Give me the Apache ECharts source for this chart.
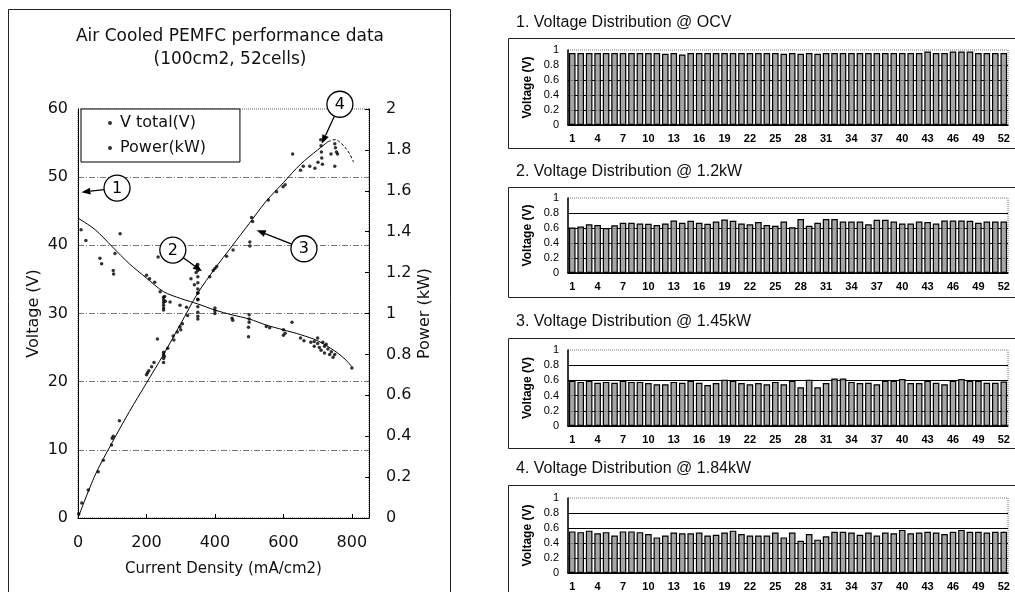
<!DOCTYPE html>
<html><head><meta charset="utf-8">
<script src="https://cdn.jsdelivr.net/npm/echarts@6/dist/echarts.min.js"></script>
<style>html,body{margin:0;padding:0;background:#fff}#c{width:1015px;height:592px}</style>
</head><body><div id="c"></div>
<script>
// ---------- Left chart data ----------
const fitCurrent = [0,50,100,150,200,250,300,350,400,450,500,550,600,650,700,750,780,800];
const fitVoltage = [44,42.3,39.8,37.3,35.2,33.2,32.2,31.4,30.5,29.8,29.2,28.3,27.6,26.9,26.0,24.5,23.3,22.2];
const fitPowerCurrent = [0,50,100,150,200,250,300,350,400,450,500,550,600,650,700,730];
const fitPower = [0,0.21,0.37,0.52,0.66,0.80,0.95,1.10,1.22,1.33,1.44,1.55,1.64,1.73,1.80,1.84];
const tailCurrent = [730,750,770,790,805];
const tailPower = [1.84,1.85,1.83,1.79,1.74];

const vPointCurrent = [9,23,64,69,103,104,108,123,200,209,224,234,240,253,250,250,250,250,250,250,255,269,298,317,350,350,350,350,350,350,400,400,400,450,452,500,500,500,498,498,550,560,600,600,605,625,650,660,680,690,700,700,705,710,720,720,730,740,745,750,800,715,725,735,690];
const vPointVoltage = [42.3,40.7,38.1,37.3,36.3,35.8,38.8,41.7,35.6,35.1,34.6,38.3,33.2,32.5,32.4,32.0,31.6,31.2,30.8,30.5,31.8,31.7,31.2,30.9,33.0,32.0,31.0,30.2,29.6,29.2,30.8,30.4,30.0,29.3,29.0,29.8,29.2,28.7,28.0,26.6,28.1,27.9,27.6,26.8,27.1,28.7,26.4,26.0,25.8,25.2,26.4,25.6,25.0,24.6,25.2,24.2,24.8,24.4,23.6,24.0,22.0,25.8,25.5,24.0,25.9];

const pPointCurrent = [2,11,30,59,74,98,100,103,121,200,203,207,215,222,232,250,250,250,250,252,262,278,280,290,298,300,305,320,330,340,345,350,350,350,350,350,350,350,385,395,400,405,434,453,502,502,507,510,556,580,599,605,627,650,658,677,692,701,709,710,711,712,714,739,750,752,755,758,750];
const pPointPower = [0.02,0.073,0.137,0.226,0.283,0.357,0.39,0.40,0.476,0.70,0.71,0.72,0.74,0.76,0.875,0.76,0.78,0.80,0.81,0.79,0.83,0.89,0.87,0.91,0.935,0.92,0.95,0.99,1.17,1.14,1.20,1.07,1.10,1.12,1.15,1.18,1.21,1.24,1.18,1.21,1.22,1.23,1.28,1.31,1.33,1.35,1.47,1.45,1.555,1.595,1.62,1.63,1.78,1.70,1.72,1.72,1.71,1.74,1.85,1.82,1.79,1.76,1.73,1.78,1.83,1.81,1.79,1.78,1.72];

// annotation circles (data coords: current, voltage) and arrow tips
const annLabels = ['1','2','3','4'];
const annCenters = [[114,48.4],[277,39.3],[660,39.5],[765,60.7]];
const annTips = [[10,47.8],[362,36.2],[522,42.2],[712,54.9]];

// ---------- Right panels data ----------
const cellLabels = ['1','2','3','4','5','6','7','8','9','10','11','12','13','14','15','16','17','18','19','20','21','22','23','24','25','26','27','28','29','30','31','32','33','34','35','36','37','38','39','40','41','42','43','44','45','46','47','48','49','50','51','52'];
const vOCV = [0.96,0.96,0.96,0.96,0.96,0.96,0.96,0.96,0.96,0.96,
              0.96,0.95,0.96,0.94,0.96,0.96,0.96,0.96,0.96,0.96,
              0.96,0.96,0.96,0.96,0.96,0.95,0.96,0.95,0.96,0.95,
              0.96,0.96,0.96,0.96,0.96,0.96,0.96,0.96,0.96,0.96,
              0.96,0.96,0.98,0.96,0.96,0.98,0.98,0.98,0.96,0.96,
              0.96,0.96];
const v12kW = [0.605,0.62,0.65,0.64,0.60,0.635,0.67,0.67,0.66,0.655,
               0.64,0.66,0.70,0.67,0.695,0.67,0.655,0.686,0.713,0.695,
               0.66,0.65,0.68,0.64,0.63,0.686,0.61,0.72,0.63,0.67,
               0.72,0.72,0.686,0.686,0.686,0.65,0.71,0.71,0.686,0.66,
               0.66,0.686,0.68,0.66,0.70,0.70,0.70,0.695,0.67,0.686,
               0.686,0.686];
const v145kW = [0.595,0.58,0.595,0.57,0.58,0.57,0.595,0.58,0.58,0.565,
                0.55,0.55,0.58,0.57,0.595,0.57,0.54,0.565,0.61,0.595,
                0.565,0.55,0.565,0.55,0.58,0.55,0.595,0.51,0.61,0.51,
                0.565,0.625,0.625,0.58,0.565,0.57,0.55,0.595,0.595,0.62,
                0.565,0.565,0.595,0.57,0.55,0.595,0.62,0.595,0.595,0.57,
                0.57,0.585];
const v184kW = [0.555,0.545,0.565,0.53,0.545,0.50,0.555,0.555,0.545,0.52,
                0.475,0.50,0.54,0.53,0.53,0.54,0.50,0.51,0.54,0.565,
                0.52,0.50,0.50,0.50,0.54,0.475,0.54,0.43,0.52,0.445,
                0.49,0.55,0.55,0.54,0.51,0.54,0.50,0.54,0.53,0.575,
                0.53,0.54,0.55,0.54,0.52,0.55,0.575,0.55,0.55,0.54,
                0.55,0.55];
const panelValues = [vOCV, v12kW, v145kW, v184kW];
const panelTitles = ['1. Voltage Distribution @ OCV','2. Voltage Distribution @ 1.2kW','3. Voltage Distribution @ 1.45kW','4. Voltage Distribution @ 1.84kW'];

// ---------- layout ----------
const LF = 'DejaVu Sans';
const RF = 'Liberation Sans';
const panelTop = [50,198,350,498];
const panelH = [75,75,76,77];
const panelFrameTop = [38,187,338,485];
const panelTitleY = [23,172,322,469];

const zip = (a,b) => a.map((v,i)=>[v,b[i]]);

const grids = [{left:78, top:109, width:291, height:409, show:true, borderColor:'#666', borderWidth:1, borderType:'dotted'}];
const xAxes = [{
  gridIndex:0, type:'value', min:0, max:850, interval:200,
  axisLine:{show:true, lineStyle:{color:'#000', width:1}},
  axisTick:{show:true, inside:true, length:4, lineStyle:{color:'#000'}},
  axisLabel:{margin:17, color:'#111', fontFamily:LF, fontSize:16, formatter:v=> (v%200===0 ? String(v) : '')},
  splitLine:{show:false},
  name:'Current Density (mA/cm2)', nameLocation:'middle', nameGap:44,
  nameTextStyle:{color:'#111', fontFamily:LF, fontSize:15}
}];
const yAxes = [{
  gridIndex:0, type:'value', min:0, max:60, interval:10, position:'left',
  axisLine:{show:true, lineStyle:{color:'#000', width:1}},
  axisTick:{show:false},
  axisLabel:{margin:10, color:'#111', fontFamily:LF, fontSize:16},
  splitLine:{show:true, showMinLine:false, showMaxLine:false, lineStyle:{color:'#555', width:0.8, type:[6,2,1,2]}},
  name:'Voltage (V)', nameLocation:'middle', nameGap:36, nameRotate:90,
  nameTextStyle:{color:'#111', fontFamily:LF, fontSize:16}
},{
  gridIndex:0, type:'value', min:0, max:2, interval:0.2, position:'right',
  axisLine:{show:true, lineStyle:{color:'#000', width:1}},
  axisTick:{show:true, inside:true, length:4, lineStyle:{color:'#000'}},
  axisLabel:{margin:17, color:'#111', fontFamily:LF, fontSize:16},
  splitLine:{show:false},
  name:'Power (kW)', nameLocation:'middle', nameGap:48, nameRotate:90,
  nameTextStyle:{color:'#111', fontFamily:LF, fontSize:16}
}];

const series = [
  {name:'V total(V)', type:'scatter', xAxisIndex:0, yAxisIndex:0, data:zip(vPointCurrent,vPointVoltage), symbol:'circle', symbolSize:3.5, itemStyle:{color:'#000'}, z:3},
  {name:'Power(kW)', type:'scatter', xAxisIndex:0, yAxisIndex:1, data:zip(pPointCurrent,pPointPower), symbol:'circle', symbolSize:3.5, itemStyle:{color:'#000'}, z:3},
  {name:'Vfit', type:'line', xAxisIndex:0, yAxisIndex:0, data:zip(fitCurrent,fitVoltage), smooth:0.3, showSymbol:false, lineStyle:{color:'#000', width:1}},
  {name:'Pfit', type:'line', xAxisIndex:0, yAxisIndex:1, data:zip(fitPowerCurrent,fitPower), smooth:0.3, showSymbol:false, lineStyle:{color:'#000', width:1}},
  {name:'Ptail', type:'line', xAxisIndex:0, yAxisIndex:1, data:zip(tailCurrent,tailPower), smooth:0.4, showSymbol:false, lineStyle:{color:'#000', width:1, type:[3,2]}}
];

panelValues.forEach((vals, i) => {
  const gi = i+1;
  grids.push({left:568, top:panelTop[i], width:440, height:panelH[i], show:true, borderColor:'#777', borderWidth:1, borderType:'dotted'});
  xAxes.push({
    gridIndex:gi, type:'category', data:cellLabels, boundaryGap:true,
    axisLine:{show:true, lineStyle:{color:'#000', width:1.5}},
    axisTick:{show:false},
    axisLabel:{interval:2, margin:8, color:'#000', fontFamily:RF, fontSize:11, fontWeight:'bold'}
  });
  yAxes.push({
    gridIndex:gi, type:'value', min:0, max:1, interval:0.2,
    axisLine:{show:true, lineStyle:{color:'#000', width:1.5}},
    axisTick:{show:false},
    axisLabel:{margin:9, color:'#000', fontFamily:RF, fontSize:11},
    splitLine:{show:true, showMaxLine:false, lineStyle:{color:'#000', width:1}},
    name:'Voltage (V)', nameLocation:'middle', nameGap:34, nameRotate:90,
    nameTextStyle:{color:'#000', fontFamily:RF, fontSize:12, fontWeight:'bold'}
  });
  series.push({
    name:'panel'+gi, type:'bar', xAxisIndex:gi, yAxisIndex:gi+1, data:vals,
    barCategoryGap:'22%',
    itemStyle:{color:'rgba(150,150,150,0.85)', borderColor:'#000', borderWidth:1.2}
  });
});

const chart = echarts.init(document.getElementById('c'), null, {renderer:'canvas'});
chart.setOption({
  animation:false,
  backgroundColor:'#fff',
  grid:grids, xAxis:xAxes, yAxis:yAxes, series:series,
  legend:{
    data:['V total(V)','Power(kW)'], orient:'vertical', left:81, top:109,
    padding:[6,34,6,27], itemGap:9, itemWidth:10, itemHeight:4, icon:'circle',
    backgroundColor:'#fff', borderColor:'#000', borderWidth:1, borderRadius:0,
    selectedMode:false,
    textStyle:{color:'#111', fontFamily:LF, fontSize:16}
  }
});

// ---------- graphics: frames, titles, annotations ----------
const g = [];
g.push({type:'rect', shape:{x:8.5, y:9.5, width:442, height:600}, style:{fill:'none', stroke:'#222', lineWidth:1}, z:-1});
g.push({type:'text', style:{text:'Air Cooled PEMFC performance data', x:230, y:37, align:'center', verticalAlign:'middle', font:'17px "DejaVu Sans"', fill:'#111'}});
g.push({type:'text', style:{text:'(100cm2, 52cells)', x:230, y:60, align:'center', verticalAlign:'middle', font:'17px "DejaVu Sans"', fill:'#111'}});
panelTitles.forEach((t,i)=>{
  g.push({type:'rect', shape:{x:508.5, y:panelFrameTop[i]+0.5, width:520, height:110}, style:{fill:'none', stroke:'#222', lineWidth:1}, z:-1});
  g.push({type:'text', style:{text:t, x:516, y:panelTitleY[i], align:'left', verticalAlign:'middle', font:'16px "Liberation Sans"', fill:'#111'}});
});
const R = 13;
annCenters.forEach((c,i)=>{
  const pc = chart.convertToPixel({xAxisIndex:0, yAxisIndex:0}, c);
  const pt = chart.convertToPixel({xAxisIndex:0, yAxisIndex:0}, annTips[i]);
  const dx = pt[0]-pc[0], dy = pt[1]-pc[1], L = Math.hypot(dx,dy), ux = dx/L, uy = dy/L;
  const sx = pc[0]+ux*R, sy = pc[1]+uy*R;
  const hl = 9, hw = 3.5;
  const bx = pt[0]-ux*hl, by = pt[1]-uy*hl;
  g.push({type:'line', z:100, shape:{x1:sx, y1:sy, x2:bx, y2:by}, style:{stroke:'#000', lineWidth:1.3}});
  g.push({type:'polygon', z:100, shape:{points:[[pt[0],pt[1]],[bx-uy*hw,by+ux*hw],[bx+uy*hw,by-ux*hw]]}, style:{fill:'#000'}});
  g.push({type:'circle', z:100, shape:{cx:pc[0], cy:pc[1], r:R}, style:{fill:'#fff', stroke:'#000', lineWidth:1.3}});
  g.push({type:'text', z:101, style:{text:annLabels[i], x:pc[0], y:pc[1]+0.5, align:'center', verticalAlign:'middle', font:'16px "DejaVu Sans"', fill:'#000'}});
});
chart.setOption({graphic:g});
</script>
</body></html>
